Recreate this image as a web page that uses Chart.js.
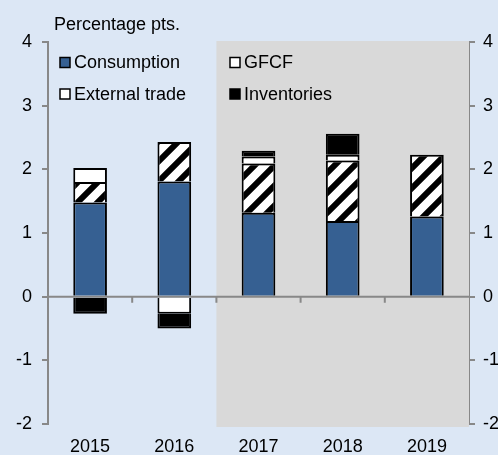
<!DOCTYPE html>
<html>
<head>
<meta charset="utf-8">
<script src="https://cdn.jsdelivr.net/npm/chart.js@4/dist/chart.umd.min.js"></script>
<style>
html, body { margin: 0; padding: 0; background: #dce7f5; }
#wrap { width: 498px; height: 455px; }
</style>
</head>
<body>
<div id="wrap"><canvas id="myChart" width="498" height="455"></canvas></div>
<script>
// data
var years = ['2015', '2016', '2017', '2018', '2019'];
var consumption = [1.48, 1.81, 1.32, 1.19, 1.26];
var gfcf = [0.32, 0.62, 0.77, 0.95, 0.97];
var externalTrade = [0.22, -0.27, 0.11, 0.09, 0];
var inventories = [-0.27, -0.23, 0.09, 0.33, 0];
var yMin = -2, yMax = 4;
var unitLabel = 'Percentage pts.';
var shadeFrom = 2; // forecast years (2017 on) get the grey box

var font = { family: 'Arial, "Liberation Sans", sans-serif', size: 18 };
var axisGrey = '#888888';

// "/" hatching for GFCF
function makeHatch() {
	var s = 20;
	var c = document.createElement('canvas');
	c.width = s; c.height = s;
	var g = c.getContext('2d');
	g.fillStyle = '#fff';
	g.fillRect(0, 0, s, s);
	g.strokeStyle = '#000';
	g.lineWidth = 6;
	g.beginPath();
	for (var k = -1; k <= 1; k++) {
		// run the lines well past the tile so the joins are seamless
		g.moveTo(k * s - s, 2 * s);
		g.lineTo(k * s + 2 * s, -s);
	}
	g.stroke();
	return g.createPattern(c, 'repeat');
}
var hatch = makeHatch();

var swatches = ['#366092', '#ffffff', '#ffffff', '#000000'];

var decorPlugin = {
	id: 'decor',
	beforeDatasetsDraw(chart) {
		var ctx = chart.ctx, ca = chart.chartArea, x = chart.scales.x;
		var x0 = (x.getPixelForValue(shadeFrom - 1) + x.getPixelForValue(shadeFrom)) / 2;
		ctx.save();
		ctx.fillStyle = '#d9d9d9';
		ctx.fillRect(x0, ca.top - 1, ca.right - x0, ca.bottom - ca.top + 4);
		ctx.restore();
	},
	afterDatasetsDraw(chart) {
		var ctx = chart.ctx, ca = chart.chartArea, x = chart.scales.x, y = chart.scales.y;
		var y0 = y.getPixelForValue(0);
		ctx.save();
		ctx.strokeStyle = axisGrey;
		ctx.lineWidth = 2;
		ctx.beginPath();
		ctx.moveTo(ca.left, y0);
		ctx.lineTo(ca.right, y0);
		for (var i = 0; i < years.length - 1; i++) {
			var xb = (x.getPixelForValue(i) + x.getPixelForValue(i + 1)) / 2;
			ctx.moveTo(xb, y0);
			ctx.lineTo(xb, y0 + 6);
		}
		ctx.stroke();
		ctx.restore();
	},
	afterDraw(chart) {
		var ctx = chart.ctx;
		ctx.save();
		ctx.font = font.size + 'px ' + font.family;
		ctx.fillStyle = '#000';
		ctx.textBaseline = 'alphabetic';
		ctx.fillText(unitLabel, 54, 30);

		var cols = [60, 230], rows = [62.5, 94];
		ctx.textBaseline = 'middle';
		chart.data.datasets.forEach(function(ds, i) {
			var mx = cols[i % 2], my = rows[Math.floor(i / 2)];
			ctx.fillStyle = swatches[i];
			ctx.fillRect(mx, my - 5, 10, 10);
			ctx.strokeStyle = '#000';
			ctx.lineWidth = 1.5;
			ctx.strokeRect(mx, my - 5, 10, 10);
			ctx.fillStyle = '#000';
			ctx.fillText(ds.label, mx + 14, my + 1);
		});
		ctx.restore();
	}
};

var barStyle = {
	borderColor: '#000',
	borderWidth: 2,
	borderSkipped: 'start',
	barPercentage: 0.4,
	categoryPercentage: 1
};

var yAxisCommon = {
	stacked: true,
	min: yMin,
	max: yMax,
	ticks: { stepSize: 1, color: '#000', font: font },
	grid: { drawOnChartArea: false, tickLength: 6, color: axisGrey, lineWidth: 2 },
	border: { color: axisGrey, width: 2 }
};

var ctx = document.getElementById('myChart');
var myChart = new Chart(ctx, {
	type: 'bar',
	data: {
		labels: years,
		datasets: [
			Object.assign({ label: 'Consumption', data: consumption, backgroundColor: '#366092' }, barStyle),
			Object.assign({ label: 'GFCF', data: gfcf, backgroundColor: hatch }, barStyle),
			Object.assign({ label: 'External trade', data: externalTrade, backgroundColor: '#ffffff' }, barStyle),
			Object.assign({ label: 'Inventories', data: inventories, backgroundColor: '#000000' }, barStyle)
		]
	},
	options: {
		responsive: false,
		maintainAspectRatio: false,
		animation: false,
		layout: { padding: { top: 42 } },
		plugins: {
			legend: { display: false },
			tooltip: { enabled: false }
		},
		scales: {
			x: {
				stacked: true,
				grid: { display: false, drawTicks: false },
				border: { display: false },
				ticks: { color: '#000', font: font, padding: 12, maxRotation: 0 },
				afterFit: function(s) { s.height = 31; }
			},
			y: Object.assign({}, yAxisCommon, {
				position: 'left',
				ticks: Object.assign({}, yAxisCommon.ticks, { padding: 10 }),
				afterFit: function(s) { s.width = 48; }
			}),
			y2: Object.assign({}, yAxisCommon, {
				position: 'right',
				stacked: false,
				ticks: Object.assign({}, yAxisCommon.ticks, { padding: 8 }),
				afterFit: function(s) { s.width = 29; }
			})
		}
	},
	plugins: [decorPlugin]
});
</script>
</body>
</html>
